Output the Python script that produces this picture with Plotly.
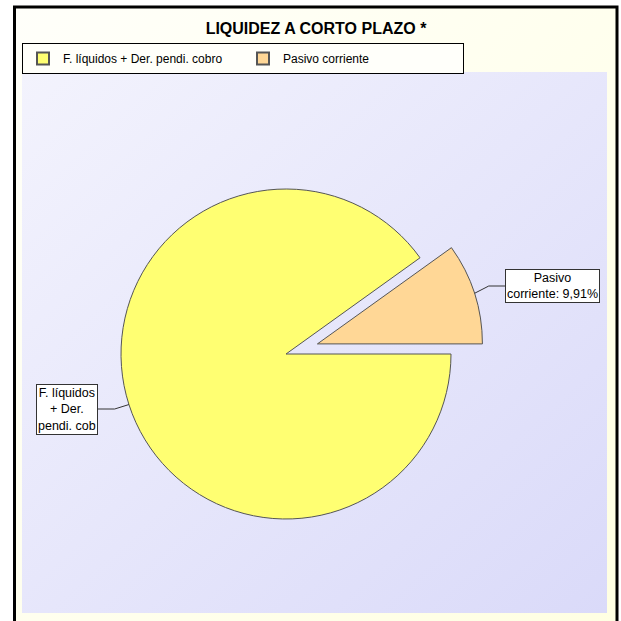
import base64
import math
import plotly.graph_objects as go

# ---------------- data ----------------
title_text = "LIQUIDEZ A CORTO PLAZO *"
categories = ["F. líquidos + Der. pendi. cobro", "Pasivo corriente"]
values = [90.09, 9.91]
label_texts = ["F. líquidos<br>+ Der.<br>pendi. cob", "Pasivo<br>corriente: 9,91%"]
colors = ["#FFFF72", "#FFD796"]
pulls = [0.0, 0.2]

# ---------------- layout constants (pixels) ----------------
W = H = 621
ML, MR, MT, MB = 22, 14, 72, 8
PW = W - ML - MR
PH = H - MT - MB


def px_x(x):
    return (x - ML) / PW


def px_y(y):
    return (H - MB - y) / PH


CX, CY, R = 286, 354, 165
half = R * (1 + max(pulls))
domain_x = [px_x(CX - half), px_x(CX + half)]
domain_y = [px_y(CY + half), px_y(CY - half)]

total = sum(values)
# the last slice starts at 3 o'clock; slices run counter-clockwise
start_ccw_from_east = 360 * values[-1] / total

fig = go.Figure(
    go.Pie(
        labels=categories,
        values=values,
        sort=False,
        direction="counterclockwise",
        rotation=90,
        pull=pulls,
        textinfo="none",
        marker=dict(colors=colors, line=dict(color="#555555", width=1)),
        domain=dict(x=domain_x, y=domain_y),
        hoverinfo="label+percent",
    )
)


def svg_gradient(c0, c1):
    svg = (
        '<svg xmlns="http://www.w3.org/2000/svg" width="100" height="100" '
        'viewBox="0 0 100 100" preserveAspectRatio="none">'
        '<defs><linearGradient id="g" x1="0" y1="0" x2="1" y2="1">'
        f'<stop offset="0" stop-color="{c0}"/><stop offset="1" stop-color="{c1}"/>'
        '</linearGradient></defs><rect width="100" height="100" fill="url(#g)"/></svg>'
    )
    return "data:image/svg+xml;base64," + base64.b64encode(svg.encode()).decode()


def img(left, top, right, bottom, c0, c1):
    return dict(
        source=svg_gradient(c0, c1),
        xref="paper", yref="paper",
        x=px_x(left), y=px_y(top),
        sizex=(right - left) / PW, sizey=(bottom - top) / PH,
        sizing="stretch", xanchor="left", yanchor="top", layer="below",
    )


images = [
    img(15, 8, 617, 640, "#FFFFFA", "#FFFFE2"),
    img(22, 72, 607, 613, "#F3F3FD", "#DADAF9"),
]

# ---------------- leader lines + label boxes ----------------
shapes = [
    dict(type="rect", xref="paper", yref="paper",
         x0=px_x(14.5), x1=px_x(617), y0=px_y(660), y1=px_y(7),
         line=dict(color="black", width=3), fillcolor="rgba(0,0,0,0)", layer="above"),
]
annotations = []

box_specs = [
    dict(side="left", edge_x=98, cy=409),    # F. líquidos
    dict(side="right", edge_x=505, cy=286),  # Pasivo
]

cum = start_ccw_from_east
for i, v in enumerate(values):
    a0 = cum
    a1 = cum + 360 * v / total
    cum = a1
    mid = math.radians((a0 + a1) / 2)
    ux, uy = math.cos(mid), -math.sin(mid)
    ox = CX + R * pulls[i] * ux
    oy = CY + R * pulls[i] * uy
    ex, ey = ox + R * ux, oy + R * uy
    spec = box_specs[i]
    kx = ex + 15 * ux
    ky = spec["cy"]
    path = (f"M {px_x(ex)},{px_y(ey)} L {px_x(kx)},{px_y(ky)} "
            f"L {px_x(spec['edge_x'])},{px_y(ky)}")
    shapes.append(dict(type="path", xref="paper", yref="paper", path=path,
                       line=dict(color="#333333", width=1)))
    annotations.append(dict(
        xref="paper", yref="paper",
        x=px_x(spec["edge_x"]), y=px_y(spec["cy"]),
        xanchor="right" if spec["side"] == "left" else "left",
        yanchor="middle",
        text=label_texts[i], showarrow=False, align="center",
        font=dict(family="Liberation Sans, Arial", size=12.5, color="black"),
        bgcolor="white", bordercolor="#333333", borderwidth=1, borderpad=1,
    ))

fig.update_layout(
    width=W, height=H,
    margin=dict(l=ML, r=MR, t=MT, b=MB, autoexpand=False),
    paper_bgcolor="white",
    plot_bgcolor="rgba(0,0,0,0)",
    title=dict(
        text=f"<b>{title_text}</b>",
        x=316 / W, xref="container", xanchor="center",
        y=1 - 28 / H, yref="container", yanchor="middle",
        font=dict(family="Liberation Sans, Arial", size=16, color="black"),
    ),
    legend=dict(
        orientation="h", x=px_x(22), y=px_y(43), xanchor="left", yanchor="top",
        bordercolor="black", borderwidth=1, bgcolor="#FFFFFA",
        font=dict(family="Liberation Sans, Arial", size=12, color="black"),
        itemsizing="constant", traceorder="normal",
        tracegroupgap=0, itemwidth=30, entrywidth=175,
    ),
    images=images,
    shapes=shapes,
    annotations=annotations,
    showlegend=True,
)

fig.write_html("out.html", config={"displayModeBar": False},
               post_script="document.body.style.margin='0';")
